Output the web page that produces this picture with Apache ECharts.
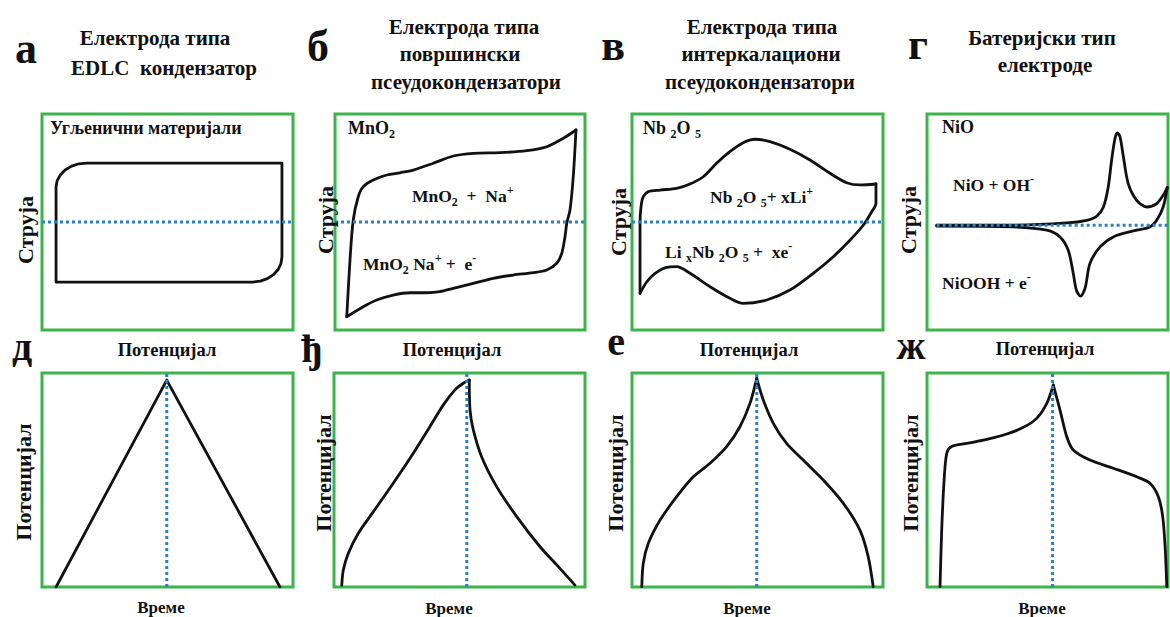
<!DOCTYPE html>
<html><head><meta charset="utf-8">
<script src="https://cdn.jsdelivr.net/npm/echarts@6/dist/echarts.min.js"></script>
<style>html,body{margin:0;padding:0;background:#fff}#c{width:1170px;height:617px}</style>
</head><body><div id="c"></div>
<script>
// ---------- DATA ----------
// Cyclic voltammograms: x = potential (0..100), y = current (-100..100)
const edlcCV = [[5.6,-55.6],[5.6,32.4],[6.0,38.1],[7.3,43.5],[9.2,48.1],[11.8,51.7],[14.7,53.9],[17.9,54.6],[95.6,54.6],[95.6,-32.4],[95.2,-38.4],[94.1,-44],[92.2,-48.8],[89.8,-52.5],[87,-54.7],[84.1,-55.6],[5.6,-55.6]];
const mno2Anodic = [[4.7,-87.7],[6.0,-35.2],[7.3,1.9],[9.3,23.4],[11.3,32.7],[15.3,38.9],[20.7,43.5],[26,45.6],[31.3,48.1],[39.3,54.4],[47.3,61.1],[55.3,63.6],[66,64.2],[76.7,66],[84.7,69.7],[91.3,77.5],[96.4,85.2]];
const mno2Cathodic = [[96.4,85.2],[95.3,41.9],[94,11.1],[92.7,-1.2],[92,-13.6],[90.7,-29],[88.7,-38.2],[84.7,-44.4],[79.3,-46.9],[71.3,-49.1],[63.3,-52.1],[55.3,-56.8],[47.3,-61.4],[42,-64.5],[36.7,-65.5],[30,-65.5],[23.3,-67.6],[16.7,-72.2],[11.3,-78.4],[4.7,-87.7]];
const nb2o5Anodic = [[3.2,-66],[3.2,-35.2],[3.2,-1.2],[3.6,14.2],[4.5,23.4],[6.5,28.1],[11.2,29.6],[17.8,31.2],[23.1,35.2],[28.4,41.9],[33.7,54.4],[39,65.1],[44.3,73.4],[49,76.6],[55,74.4],[62.9,67.3],[70.9,57.4],[78.9,45.1],[85.5,36.4],[90.8,34.3],[97.2,35.2]];
const nb2o5Cathodic = [[97.2,35.2],[97.2,29.6],[97.2,17.3],[95.5,9.5],[92.2,-2.8],[86.9,-16.7],[80.2,-32.1],[72.2,-47.5],[62.9,-63],[53.7,-72.2],[44.3,-75.3],[39,-70.6],[31.1,-59.9],[23.1,-47.5],[17.8,-41.4],[13.8,-41.9],[9.2,-47.5],[5.9,-55.3],[3.2,-66]];
const nioAnodic = [[4,0],[35.7,0],[58,2.1],[66.3,4.6],[70.4,8.3],[73.2,16.9],[75.2,35.5],[76.6,60.2],[78,80.3],[79,85.5],[80.1,81.8],[81.5,63.2],[83.5,38.6],[87,23.1],[91.2,16.9],[95.3,20.1],[98,27.8],[99.7,34.9]];
const nioCathodic = [[99.7,34.9],[98,16.9],[95.3,4.6],[92.5,-1.6],[85.6,-5.3],[77.3,-10.8],[71.8,-20.1],[67.6,-35.5],[65.6,-58.3],[63.7,-65.7],[62,-60.2],[60.7,-44.7],[58.6,-23.1],[55.2,-10.8],[49.7,-4.6],[35.8,-1.6],[4,-0.9]];
const cvZero = [[0,0],[100,0]];
const nioZero = [[4,0],[100,0]];

// Galvanostatic charge/discharge: x = time (0..100), y = potential (0..100)
const edlcGCD = [[5.6,0],[49.7,96.7],[94.8,0]];
const mno2Charge = [[3.1,0.9],[3.7,7.9],[5.7,15.7],[9.7,25.1],[15.7,35.2],[23.6,48.5],[31.6,62.5],[38.2,74.9],[43.5,85],[48.2,92.1],[51.5,95.2],[53.9,96.7]];
const mno2Discharge = [[53.9,96.7],[54.2,82.7],[55.5,73.4],[58.8,60.9],[64.8,46.9],[72.8,32.9],[82.1,18.8],[90,8.7],[96,0.9]];
const nb2o5Charge = [[3.9,0.1],[4.5,11.1],[6.5,20.4],[11.2,31.3],[17.8,42.2],[24.4,51.5],[31.1,57.8],[37.7,65.6],[43,74.9],[47,85.8],[49.7,97.5]];
const nb2o5Discharge = [[49.7,97.5],[52.3,87.4],[56.3,76.5],[61.6,67.1],[68.2,59.3],[76.2,50],[84.2,39.1],[90.8,26.6],[94.1,14.2],[96.1,0.1]];
const nioCharge = [[5.4,0.1],[6.1,26.6],[7.1,50],[8.2,62.5],[10.2,65.6],[16.5,67.1],[24.8,69],[33.1,71.5],[40,74.6],[45.5,78.8],[49.7,85.8],[52.4,94.4]];
const nioDischarge = [[52.4,94.4],[55.2,82.7],[58,70.2],[60.7,64],[67.6,59.3],[77.3,55.5],[87,51.5],[92.5,48.5],[96,42.2],[97.8,32.9],[98.8,18.8],[99.5,0.1]];
const edlcMid = [[49.7,0],[49.7,100]];
const mno2Mid = [[52.9,0],[52.9,100]];
const nb2o5Mid = [[49.7,0],[49.7,100]];
const nioMid = [[52.1,0],[52.1,100]];

// Texts
const panelLetters = ['а','б','в','г','д','ђ','е','ж'];
const titles = [['Електрода типа','EDLC  кондензатор'],['Електрода типа','површински','псеудокондензатори'],['Електрода типа','интеркалациони','псеудокондензатори'],['Батеријски тип','електроде']];
const materialLabels = ['Угљенични материјали','MnO{sub|2}','Nb {sub|2}O {sub|5}','NiO'];
const reactionLabels = ['MnO{sub|2}  +  Na{sup|+}','MnO{sub|2} Na{sup|+} +  e{sup|-}','Nb {sub|2}O {sub|5}+ xLi{sup|+}','Li {sub|x}Nb {sub|2}O {sub|5} +  xe{sup|-}','NiO + OH{sup|-}','NiOOH + e{sup|-}'];
const currentLabel = 'Струја';
const potentialLabel = 'Потенцијал';
const timeLabel = 'Време';

// ---------- LAYOUT ----------
const SERIF = '"Liberation Serif","Times New Roman",serif';
const GREEN = '#3bb44a';
const BLUE = '#2f7fc4';
const INK = '#111';
const boxes = [
  {left:42, top:114, width:251, height:216, ymin:-100, ymax:100},
  {left:335, top:114, width:250, height:216, ymin:-100, ymax:100},
  {left:632, top:114, width:251, height:216, ymin:-100, ymax:100},
  {left:927, top:114, width:241, height:216, ymin:-97, ymax:103},
  {left:42, top:373, width:251, height:214, ymin:0, ymax:100},
  {left:334, top:373, width:251, height:214, ymin:0, ymax:100},
  {left:632, top:373, width:251, height:214, ymin:0, ymax:100},
  {left:927, top:373, width:241, height:214, ymin:0, ymax:100}
];
const grid = boxes.map(b => ({left:b.left, top:b.top, width:b.width, height:b.height, show:true, borderColor:GREEN, borderWidth:3, backgroundColor:'transparent'}));
const xAxis = boxes.map((b,i) => ({type:'value', gridIndex:i, min:0, max:100, show:false}));
const yAxis = boxes.map((b,i) => ({type:'value', gridIndex:i, min:b.ymin, max:b.ymax, show:false}));

function curve(i, data, smooth) {
  return {type:'line', xAxisIndex:i, yAxisIndex:i, data:data, smooth:smooth, symbol:'none', silent:true,
    lineStyle:{color:INK, width:2.8, cap:'round', join:'round'}, z:3, animation:false};
}
function dotted(i, data) {
  return {type:'line', xAxisIndex:i, yAxisIndex:i, data:data, symbol:'none', silent:true,
    lineStyle:{color:BLUE, width:3, type:[3,3]}, z:4, animation:false};
}
const series = [
  curve(0, edlcCV, false), dotted(0, cvZero),
  curve(1, mno2Anodic, 0.3), curve(1, mno2Cathodic, 0.3), dotted(1, cvZero),
  curve(2, nb2o5Anodic, 0.3), curve(2, nb2o5Cathodic, 0.3), dotted(2, cvZero),
  curve(3, nioAnodic, 0.3), curve(3, nioCathodic, 0.3), dotted(3, nioZero),
  curve(4, edlcGCD, false), dotted(4, edlcMid),
  curve(5, mno2Charge, 0.3), curve(5, mno2Discharge, 0.3), dotted(5, mno2Mid),
  curve(6, nb2o5Charge, 0.3), curve(6, nb2o5Discharge, 0.3), dotted(6, nb2o5Mid),
  curve(7, nioCharge, 0.3), curve(7, nioDischarge, 0.3), dotted(7, nioMid)
];

const rich = {
  sub:{fontSize:12, fontWeight:'bold', fontFamily:SERIF, lineHeight:11, verticalAlign:'bottom', color:INK},
  sup:{fontSize:12, fontWeight:'bold', fontFamily:SERIF, lineHeight:11, verticalAlign:'top', color:INK}
};
function txt(x, y, text, size, align, rot) {
  return {type:'text', x:x, y:y, rotation:rot||0, silent:true, z:10,
    style:{text:text, fill:INK, font:'bold '+size+'px '+SERIF, fontSize:size, fontWeight:'bold', fontFamily:SERIF,
      textAlign:align||'center', align:align||'center', textVerticalAlign:'middle', verticalAlign:'middle', lineHeight:24, rich:rich}};
}
const g = [];
// panel letters
const letterPos = [[26,48,44],[318,46,44],[613,45,44],[918,44,44],[22,346,40],[312,348,40],[616,341,40],[911,345,40]];
panelLetters.forEach((l,i) => g.push(txt(letterPos[i][0], letterPos[i][1], l, letterPos[i][2])));
// titles
const titlePos = [[[155,38],[164,68]],[[464,27],[460,54],[466,82]],[[762,27],[761,54],[760,82]],[[1042,38],[1045,65]]];
titles.forEach((lines,i) => lines.forEach((t,j) => g.push(txt(titlePos[i][j][0], titlePos[i][j][1], t, 21))));
// material labels
const matPos = [[50,128],[348,128],[643,128],[942,127]];
materialLabels.forEach((t,i) => g.push(txt(matPos[i][0], matPos[i][1], t, 18, 'left')));
// reaction labels
const reactPos = [[412,196],[363,264],[710,197],[665,252],[953,185],[942,283]];
reactionLabels.forEach((t,i) => g.push(txt(reactPos[i][0], reactPos[i][1], t, 17.5, 'left')));
// axis labels
const curPos = [[25,230],[325,220],[618,222],[908,220]];
curPos.forEach(p => g.push(txt(p[0], p[1], currentLabel, 22, 'center', Math.PI/2)));
const potXPos = [[167,350],[452,350],[749,350],[1045,349]];
potXPos.forEach(p => g.push(txt(p[0], p[1], potentialLabel, 18.5)));
const potYPos = [[23,482],[323,473],[615,473],[910,473]];
potYPos.forEach(p => g.push(txt(p[0], p[1], potentialLabel, 22, 'center', Math.PI/2)));
const timePos = [[161,607],[449,608],[747,608],[1042,608]];
timePos.forEach(p => g.push(txt(p[0], p[1], timeLabel, 17)));

const chart = echarts.init(document.getElementById('c'), null, {renderer:'svg'});
chart.setOption({animation:false, backgroundColor:'#fff', grid, xAxis, yAxis, series, graphic:{elements:g}});
</script></body></html>
